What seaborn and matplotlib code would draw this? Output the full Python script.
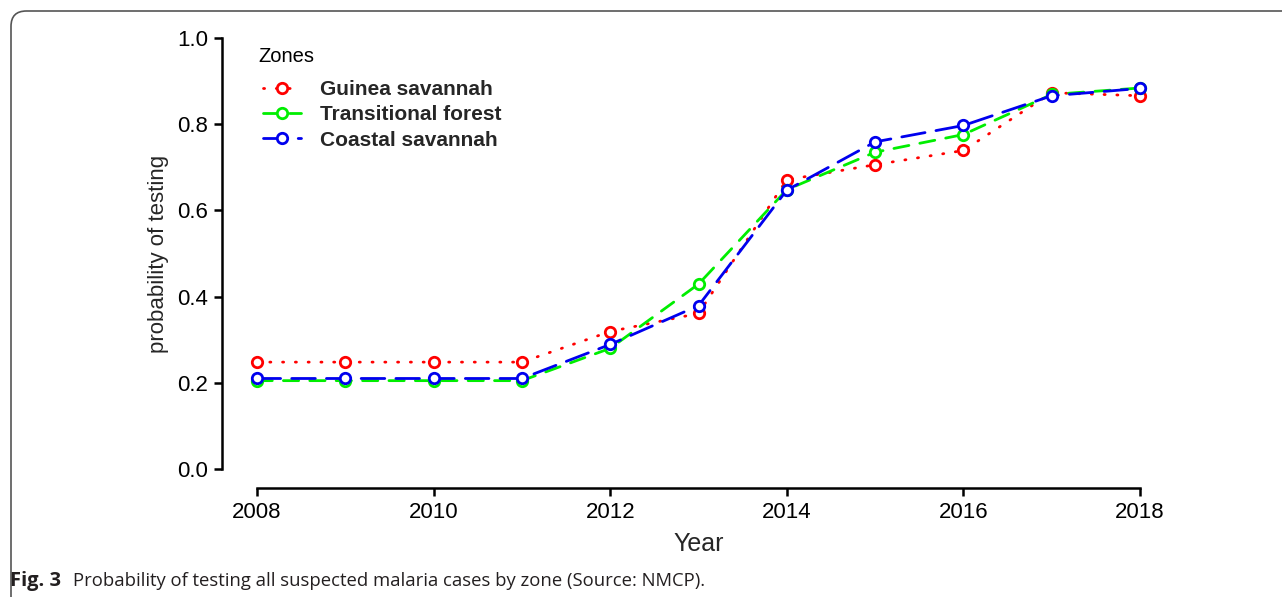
import numpy as np
import pandas as pd
import seaborn as sns
import matplotlib.pyplot as plt
from matplotlib.patches import FancyBboxPatch

sns.set_theme(style="ticks")
plt.rcParams['font.family'] = ['Liberation Sans', 'DejaVu Sans']

years = [2008, 2009, 2010, 2011, 2012, 2013, 2014, 2015, 2016, 2017, 2018]
zones = ["Guinea savannah", "Transitional forest", "Coastal savannah"]
guinea = [0.248, 0.248, 0.248, 0.248, 0.319, 0.361, 0.671, 0.706, 0.739, 0.873, 0.866]
transitional = [0.205, 0.205, 0.205, 0.205, 0.280, 0.429, 0.648, 0.735, 0.776, 0.869, 0.884]
coastal = [0.210, 0.210, 0.210, 0.210, 0.289, 0.379, 0.647, 0.759, 0.797, 0.866, 0.883]

df = pd.concat([
    pd.DataFrame({"Year": years, "prob": vals, "Zone": z})
    for z, vals in zip(zones, [guinea, transitional, coastal])
])

colors = {"Guinea savannah": "#ff0000", "Transitional forest": "#00ee00", "Coastal savannah": "#0000ee"}
dashes = {"Guinea savannah": (0.4, 4.2), "Transitional forest": (5.5, 4.0), "Coastal savannah": (8.5, 4.0)}

W, H = 1282, 597
fig = plt.figure(figsize=(W / 100, H / 100), dpi=100)
ax = fig.add_axes([257 / W, (H - 469) / H, 883 / W, 431 / H])

sns.lineplot(data=df, x="Year", y="prob", hue="Zone", style="Zone",
             palette=colors, dashes=dashes, markers={z: "o" for z in zones},
             linewidth=2.0, legend=False, ax=ax,
             markersize=7.5, markeredgewidth=2.0, markeredgecolor="auto",
             markerfacecolor="white")

for ln in ax.lines:
    ln.set_clip_on(False)
    ln.set_dash_capstyle("round")

ax.set_xlim(2008, 2018)
ax.set_ylim(0, 1)
ax.set_xticks([2008, 2010, 2012, 2014, 2016, 2018])
ax.set_yticks([0.0, 0.2, 0.4, 0.6, 0.8, 1.0])
ax.set_yticklabels(["0.0", "0.2", "0.4", "0.6", "0.8", "1.0"])

for s in ["top", "right"]:
    ax.spines[s].set_visible(False)
ax.spines["left"].set_position(("outward", 25))
ax.spines["bottom"].set_position(("outward", 14))
for s in ["left", "bottom"]:
    ax.spines[s].set_linewidth(1.8)
    ax.spines[s].set_color("black")
ax.tick_params(axis="both", direction="out", length=6, width=1.8, colors="black",
               labelsize=16, pad=4)

ax.set_xlabel("Year", fontsize=18, labelpad=6)
ax.set_ylabel("probability of testing", fontsize=16, labelpad=6)

leg = ax.legend(handles=ax.lines[:3], labels=zones,
                loc="upper left", bbox_to_anchor=(-0.014, 0.946), frameon=False,
                prop={"weight": "bold", "size": 15},
                handlelength=1.8, handletextpad=0.9, labelspacing=0.3)
fig.text(258 / W, 1 - 57 / H, "Zones", fontsize=14.5, color="black", va="center", ha="left")

# rounded frame of the figure panel
frame = FancyBboxPatch((11 / W, -20 / H), (W + 40) / W, (H - 11 + 20) / H,
                       boxstyle="round,pad=0,rounding_size=0.012",
                       transform=fig.transFigure, fill=False,
                       edgecolor="#555555", linewidth=1.2, mutation_aspect=W / H)
fig.patches.append(frame)

fig.text(10 / W, 1 - 581 / H, "Fig. 3", fontsize=14.5, fontweight="bold",
         family=["Open Sans", "DejaVu Sans"], color="#231f20", va="center")
fig.text(73 / W, 1 - 581 / H,
         "Probability of testing all suspected malaria cases by zone (Source: NMCP).",
         fontsize=13.35, family=["Open Sans", "DejaVu Sans"], color="#231f20", va="center")

fig.savefig("out.png", dpi=100)
